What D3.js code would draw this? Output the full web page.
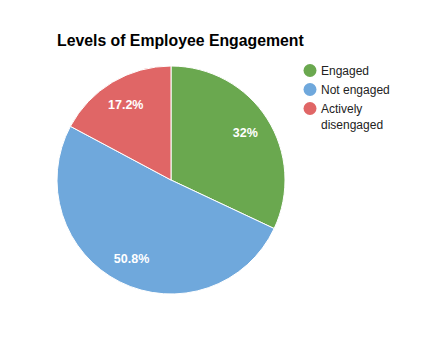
<!DOCTYPE html>
<html><head><meta charset="utf-8">
<script src="https://cdn.jsdelivr.net/npm/d3@7"></script>
<style>body{margin:0;background:#fff}svg{display:block}</style>
</head><body><svg id="c" width="442" height="337"></svg>
<script>
const categories = ["Engaged", "Not engaged", "Actively disengaged"];
const values = [32, 50.8, 17.2];
const labels = ["32%", "50.8%", "17.2%"];
const legendLines = [["Engaged"], ["Not engaged"], ["Actively", "disengaged"]];
const colors = ["#6aa84f", "#6fa8dc", "#e06666"];

const svg = d3.select("#c");
const font = "Arial, 'Liberation Sans', sans-serif";
svg.append("rect").attr("width",442).attr("height",337).attr("fill","#fff");

svg.append("text").attr("x",57).attr("y",45.5).attr("font-family",font)
  .attr("font-size",15.8).attr("font-weight","bold").attr("fill","#000")
  .text("Levels of Employee Engagement");

const cx = 171, cy = 180, r = 114;
const pie = d3.pie().sort(null).value(d => d);
const arcs = pie(values);
const arc = d3.arc().innerRadius(0).outerRadius(r);
const labelArc = d3.arc().innerRadius(88).outerRadius(88);
const g = svg.append("g").attr("transform",`translate(${cx},${cy})`);
g.selectAll("path").data(arcs).join("path")
  .attr("d", arc).attr("fill",(d,i)=>colors[i])
  .attr("stroke","#fff").attr("stroke-width",1);
g.selectAll("text").data(arcs).join("text")
  .attr("transform", d => `translate(${labelArc.centroid(d)})`)
  .attr("text-anchor","middle").attr("dy","0.35em")
  .attr("font-family",font).attr("font-size",12.5).attr("font-weight","bold")
  .attr("fill","#fff").text((d,i)=>labels[i]);

const lg = svg.append("g");
const rowY = [70.5, 89.5, 108.5];
legendLines.forEach((lines,i)=>{
  lg.append("circle").attr("cx",310).attr("cy",rowY[i]).attr("r",6.5).attr("fill",colors[i]);
  const t = lg.append("text").attr("x",321).attr("y",rowY[i]).attr("dy","0.35em")
    .attr("font-family",font).attr("font-size",12).attr("fill","#222");
  lines.forEach((ln,j)=>{
    t.append("tspan").attr("x",321).attr("dy", j===0 ? "0.35em" : 16.5).text(ln);
  });
});
</script></body></html>
